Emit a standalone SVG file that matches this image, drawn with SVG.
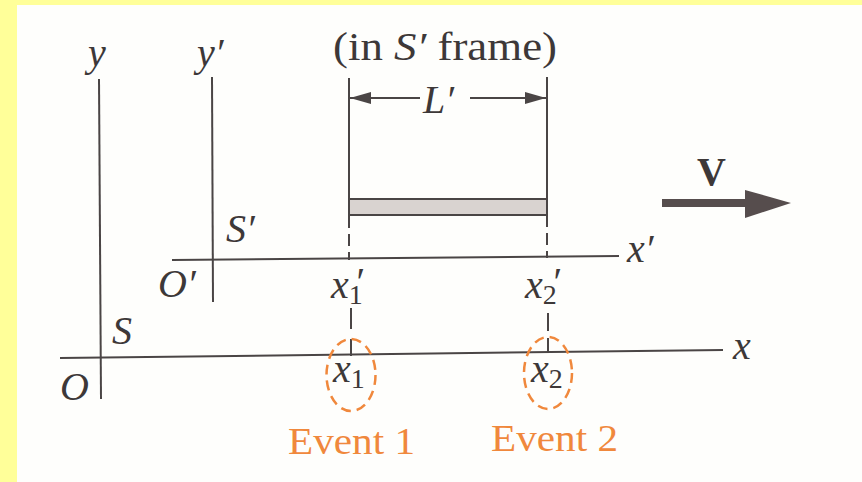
<svg xmlns="http://www.w3.org/2000/svg" width="862" height="482" viewBox="0 0 862 482">
<style>
.ln{stroke:#4a4545;stroke-width:2;fill:none}
.dash{stroke:#4a4545;stroke-width:2;fill:none;stroke-dasharray:12 6}
.v{font-family:"Liberation Serif",serif;font-style:italic;font-size:40px;fill:#3d3838}
.r{font-family:"Liberation Serif",serif;font-size:40px;fill:#3d3838}
.sub{font-size:28px;font-style:normal}
.ev{font-family:"Liberation Serif",serif;font-size:38px;fill:#f0883c}
.ell{fill:none;stroke:#f0883c;stroke-width:2.5;stroke-dasharray:10 6}
</style>
<defs>
<marker id="ah" markerWidth="22" markerHeight="14" refX="21" refY="7" orient="auto" markerUnits="userSpaceOnUse">
<path d="M0,1 L21,7 L0,13 Z" fill="#4a4545"/>
</marker>
</defs>
<rect x="0" y="0" width="862" height="482" fill="#ffff99"/>
<rect x="17" y="5" width="845" height="477" fill="#fefefc"/>

<g id="connectors">
<line id="y-axis" class="ln" x1="99" y1="79" x2="101" y2="399"/>
<line id="x-axis" class="ln" x1="60" y1="358" x2="723" y2="350"/>
<line id="yp-axis" class="ln" x1="212" y1="77" x2="213" y2="302"/>
<line id="xp-axis" class="ln" x1="172" y1="260" x2="619" y2="256"/>
<line class="ln" x1="349" y1="78" x2="349" y2="200"/>
<line class="ln" x1="547" y1="77" x2="547" y2="199"/>
<line class="ln" x1="420" y1="98" x2="350" y2="98" marker-end="url(#ah)"/>
<line class="ln" x1="470" y1="98" x2="546" y2="98" marker-end="url(#ah)"/>
<line class="dash" x1="349" y1="216" x2="349" y2="260"/>
<line class="dash" x1="547" y1="215" x2="547" y2="258"/>
<line class="ln" x1="351" y1="308" x2="351" y2="329"/>
<line class="ln" x1="351" y1="339" x2="351" y2="356"/>
<line class="ln" x1="548" y1="313" x2="548" y2="331"/>
<line class="ln" x1="548" y1="338" x2="548" y2="353"/>
<g id="v-arrow" fill="#564d4d">
<rect x="662" y="199" width="86" height="8"/>
<polygon points="745,190 791,203 745,218"/>
</g>
</g>

<g id="rod">
<rect x="349" y="199" width="198" height="16" fill="#d9d3d0" stroke="#4a4545" stroke-width="2"/>
</g>

<g id="labels-S">
<text class="v" x="88" y="66">y</text>
<text class="v" x="112" y="344" font-size="38">S</text>
<text class="v" x="60" y="400">O</text>
<text class="v" x="733" y="359">x</text>
</g>

<g id="labels-Sprime">
<text class="v" x="197" y="66">y′</text>
<text class="v" x="226" y="242">S′</text>
<text class="v" x="158" y="297">O′</text>
<text class="v" x="627" y="262">x′</text>
</g>

<g id="frame-label">
<text class="r" x="333" y="60" textLength="224" lengthAdjust="spacingAndGlyphs">(in <tspan font-style="italic">S′</tspan> frame)</text>
<text class="v" x="423" y="113">L′</text>
</g>

<g id="velocity">
<text class="r" x="697" y="185" font-weight="bold" font-size="38">V</text>
</g>

<g id="x1p">
<text class="v" x="331" y="298">x<tspan class="sub" dy="6">1</tspan><tspan x="354" y="295">′</tspan></text>
</g>
<g id="x2p">
<text class="v" x="525" y="298">x<tspan class="sub" dy="6">2</tspan><tspan x="551" y="295">′</tspan></text>
</g>

<g id="event1">
<ellipse class="ell" cx="351" cy="375" rx="24.5" ry="36"/>
<text class="v" x="333" y="382">x<tspan class="sub" dy="6">1</tspan></text>
<text class="ev" x="288" y="454" textLength="127" lengthAdjust="spacingAndGlyphs">Event 1</text>
</g>
<g id="event2">
<ellipse class="ell" cx="548" cy="373" rx="24" ry="36"/>
<text class="v" x="531" y="382">x<tspan class="sub" dy="6">2</tspan></text>
<text class="ev" x="491" y="451" textLength="127" lengthAdjust="spacingAndGlyphs">Event 2</text>
</g>
</svg>
